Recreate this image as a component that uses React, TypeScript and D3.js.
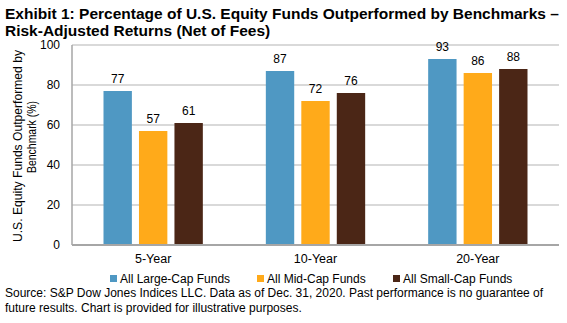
import React from "react";
import * as d3 from "d3";

const categories = ["5-Year", "10-Year", "20-Year"];
const seriesNames = ["All Large-Cap Funds", "All Mid-Cap Funds", "All Small-Cap Funds"];
const largeCap = [77, 87, 93];
const midCap = [57, 72, 86];
const smallCap = [61, 76, 88];
const yTicks = [0, 20, 40, 60, 80, 100];
const colors = ["#4F98C3", "#FFAA1A", "#4B2616"];

const FONT = "'Liberation Sans', Arial, sans-serif";

export default function App() {
  const W = 567, H = 323;
  const left = 72, right = 559, top = 45, bottom = 245;
  const x = d3.scaleBand<string>().domain(categories).range([left, right]).paddingInner(0).paddingOuter(0);
  const inner = d3.scaleBand<string>().domain(seriesNames).range([31.5, x.bandwidth() - 31.5]).paddingInner(0.2);
  const y = d3.scaleLinear().domain([0, 100]).range([bottom, top]);
  const series = [largeCap, midCap, smallCap];

  const legendX = [110, 257, 393];

  return (
    <svg width={W} height={H} style={{ position: "absolute", left: 0, top: 0, background: "#fff" }} fontFamily={FONT}>
      <text x={5} y={19} fontSize={15.5} fontWeight="bold" fill="#000">Exhibit 1: Percentage of U.S. Equity Funds Outperformed by Benchmarks –</text>
      <text x={5} y={36} fontSize={15.5} fontWeight="bold" fill="#000">Risk-Adjusted Returns (Net of Fees)</text>

      {yTicks.filter(t => t > 0).map(t => (
        <line key={t} x1={left} x2={right} y1={y(t)} y2={y(t)} stroke="#B3B3B3" strokeWidth={1} />
      ))}
      {yTicks.map(t => (
        <text key={"l" + t} x={60} y={y(t)} dy="0.35em" textAnchor="end" fontSize={12} fill="#000">{t}</text>
      ))}

      {categories.map((c, ci) =>
        series.map((s, si) => {
          const bx = (x(c) as number) + (inner(seriesNames[si]) as number);
          const bw = inner.bandwidth();
          return (
            <g key={c + si}>
              <rect x={bx} y={y(s[ci])} width={bw} height={bottom - y(s[ci])} fill={colors[si]} />
              <text x={bx + bw / 2} y={y(s[ci]) - 8} textAnchor="middle" fontSize={12} fill="#000">{s[ci]}</text>
            </g>
          );
        })
      )}

      <line x1={left} x2={left} y1={top} y2={bottom} stroke="#A6A6A6" strokeWidth={1.5} />
      <line x1={left} x2={right} y1={bottom} y2={bottom} stroke="#A6A6A6" strokeWidth={2} />

      {categories.map(c => (
        <text key={c} x={(x(c) as number) + x.bandwidth() / 2} y={263} textAnchor="middle" fontSize={12.5} fill="#000">{c}</text>
      ))}

      {seriesNames.map((n, i) => (
        <g key={n}>
          <rect x={legendX[i]} y={275} width={7} height={7} fill={colors[i]} />
          <text x={legendX[i] + 10} y={283} fontSize={12} fill="#000">{n}</text>
        </g>
      ))}

      <g transform="translate(22,146) rotate(-90)">
        <text x={0} y={0} textAnchor="middle" fontSize={12} fill="#000" textLength={192} lengthAdjust="spacingAndGlyphs">U.S. Equity Funds Outperformed by</text>
      </g>
      <g transform="translate(36,137) rotate(-90)">
        <text x={0} y={0} textAnchor="middle" fontSize={12} fill="#000" textLength={72} lengthAdjust="spacingAndGlyphs">Benchmark (%)</text>
      </g>

      <text x={5} y={297} fontSize={12} fill="#000">Source: S&amp;P Dow Jones Indices LLC.  Data as of Dec. 31, 2020.  Past performance is no guarantee of</text>
      <text x={5} y={312} fontSize={12} fill="#000">future results.  Chart is provided for illustrative purposes.</text>
    </svg>
  );
}
